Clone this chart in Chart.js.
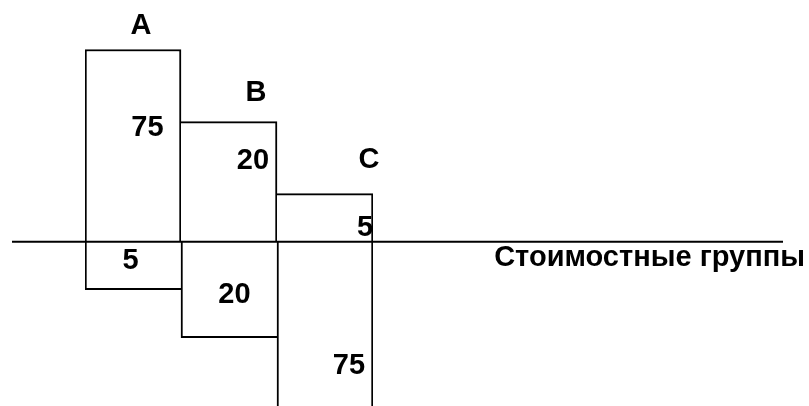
<!DOCTYPE html>
<html>
<head>
<meta charset="utf-8">
<script src="https://cdn.jsdelivr.net/npm/chart.js@4.4.0/dist/chart.umd.min.js"></script>
<style>
  body { margin: 0; background: #fff; }
  #wrap { width: 809px; height: 406px; position: relative; }
</style>
</head>
<body>
<div id="wrap"><canvas id="abcChart"></canvas></div>
<script>
const groups = ["A", "B", "C"];
// shares shown as labels: cost share above the axis, quantity share below
const costShare = [75, 20, 5];
const qtyShare = [5, 20, 75];
// schematic bar heights as drawn in the picture
const upHeights = [4, 2.5, 1];
const downHeights = [-1, -2, -4];
const axisTitle = "Стоимостные группы";

const FONT = "bold 29px 'Liberation Sans', Arial, sans-serif";

// text offsets (px): x from bar centre, y (baseline) from the zero line
const groupOffs = [[8, -208], [27, -141], [44, -74]];
const upOffs = [[14.5, -106], [24, -73], [40, -6]];
const downOffs = [[-2.5, 27], [5.5, 61], [24, 132]];

const abcPlugin = {
  id: "abcDecor",
  afterDatasetsDraw(chart) {
    const ctx = chart.ctx;
    const y0 = chart.scales.y.getPixelForValue(0);
    ctx.save();
    // horizontal axis line
    ctx.strokeStyle = "#000";
    ctx.lineWidth = 2;
    ctx.beginPath();
    ctx.moveTo(12, y0);
    ctx.lineTo(783, y0);
    ctx.stroke();

    ctx.fillStyle = "#000";
    ctx.font = FONT;
    ctx.textAlign = "center";
    ctx.textBaseline = "alphabetic";
    const up = chart.getDatasetMeta(0).data;
    up.forEach((bar, i) => {
      ctx.fillText(groups[i], bar.x + groupOffs[i][0], y0 + groupOffs[i][1]);
      ctx.fillText(String(costShare[i]), bar.x + upOffs[i][0], y0 + upOffs[i][1]);
      ctx.fillText(String(qtyShare[i]), bar.x + downOffs[i][0], y0 + downOffs[i][1]);
    });

    ctx.textAlign = "right";
    ctx.fillText(axisTitle, 805, y0 + 24);
    ctx.restore();
  }
};

// 2px outline; where bars touch only the taller one draws the shared edge
const last = groups.length - 1;
const upEdge = (c) => ({ top: 2, bottom: 2, right: 2, left: c.dataIndex === 0 ? 2 : 0 });
const downEdge = (c) => ({ top: 2, bottom: 2, left: 2, right: c.dataIndex === last ? 2 : 0 });

new Chart(document.getElementById("abcChart"), {
  type: "bar",
  data: {
    labels: groups,
    datasets: [
      {
        label: "up",
        data: upHeights,
        backgroundColor: "#fff",
        borderColor: "#000",
        borderWidth: upEdge,
        categoryPercentage: 1,
        barPercentage: 1,
      },
      {
        label: "down",
        data: downHeights,
        backgroundColor: "#fff",
        borderColor: "#000",
        borderWidth: downEdge,
        categoryPercentage: 1,
        barPercentage: 1,
      },
    ],
  },
  options: {
    responsive: true,
    maintainAspectRatio: false,
    animation: false,
    layout: { padding: { left: 85, right: 436, top: 0, bottom: 0 } },
    scales: {
      x: { stacked: true, display: false },
      y: { stacked: true, display: false, min: -3.42, max: 5.03 },
    },
    plugins: {
      legend: { display: false },
      tooltip: { enabled: false },
    },
  },
  plugins: [abcPlugin],
});
</script>
</body>
</html>
